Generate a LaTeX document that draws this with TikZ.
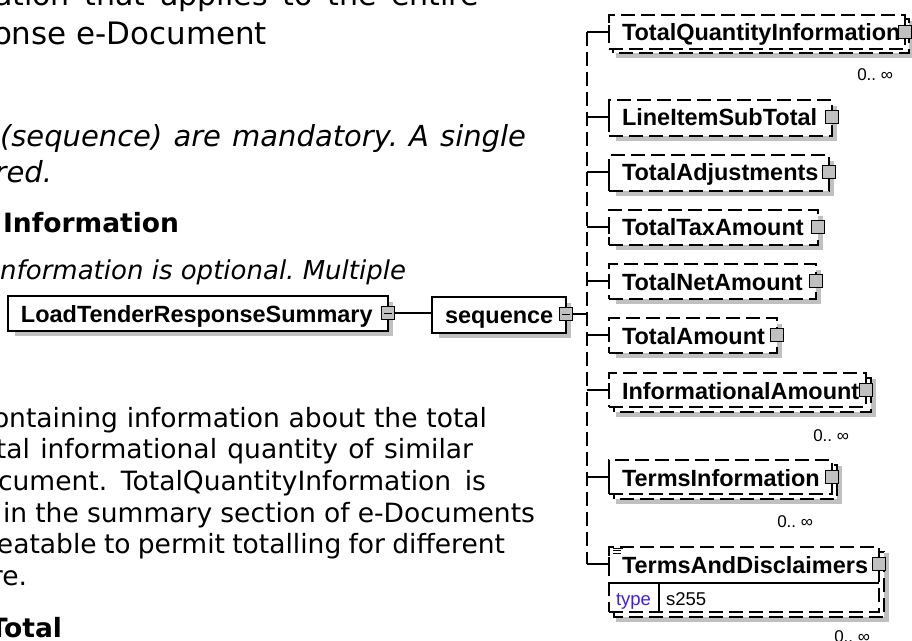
\documentclass[tikz,border=0pt]{standalone}
\usepackage{fontspec}
\setmainfont{DejaVu Sans}[ItalicFont={DejaVu Sans Oblique},BoldFont={DejaVu Sans Bold}]
\newfontfamily\diagfont{Liberation Sans}
\definecolor{shadowgray}{RGB}{192,192,192}
\definecolor{sqgray}{RGB}{192,192,192}
\definecolor{typeblue}{RGB}{60,30,240}
\frenchspacing
\tikzset{
  lbl/.style={inner sep=0pt, outer sep=0pt},
  pagetext/.style={lbl, text=black},
  paratext/.style={pagetext, font=\fontsize{19.9pt}{24pt}\selectfont},
  etext/.style={lbl, font=\diagfont\bfseries\fontsize{17.6pt}{20pt}\selectfont},
  occ/.style={lbl, font=\diagfont\fontsize{12.75pt}{14pt}\selectfont},
  typetext/.style={lbl, font=\diagfont\fontsize{13.9pt}{15pt}\selectfont},
  boxline/.style={draw=black, line width=0.9pt},
  solidbox/.style={boxline, fill=white},
  dashbox/.style={boxline, fill=white, dash pattern=on 10.5pt off 4.5pt},
  shade/.style={fill=shadowgray, draw=none},
  expander/.style={draw=black, fill=sqgray, line width=0.75pt, minimum size=9.75pt, inner sep=0pt},
  conn/.style={draw=black, line width=0.9pt},
  busline/.style={conn, dash pattern=on 10.5pt off 4.5pt},
}
% #1 name, #2 L, #3 T, #4 R, #5 B, #6 text, #7 box style, #8 stack offset
\newcommand\xsdelem[8]{%
  \fill[shade] (#2+7,#3+6) rectangle (#4+5+#8,#5+5+#8);
  \ifnum#8>0 \draw[#7] (#2+#8,#3+#8) rectangle (#4+#8,#5+#8);\fi
  \node[#7, lbl, anchor=north west, minimum width={(#4-#2)*0.75pt}, minimum height={(#5-#3)*0.75pt}] (#1) at (#2,#3) {};
  \coordinate (#1-in) at (#2,#3+17);
  \node[etext, anchor=base west] (#1-t) at (#2+13,#3+26) {#6};
  \node[expander] (#1-sq) at (#4,#3+17) {};
}
% a page line stretched between two x positions (px): #1 name, #2 x0, #3 x1, #4 baseline, #5 text
\newcommand\pline[5]{%
  \node[paratext, anchor=base west] (#1) at (#2,#4) {\makebox[{(#3-(#2))*0.75pt}][s]{#5}};
}
\begin{document}
\begin{tikzpicture}[x=0.75pt,y=-0.75pt]
\path[use as bounding box] (0,0) rectangle (912,641);
\clip (0,0) rectangle (912,641);
\fill[white] (0,0) rectangle (912,641);

% ---- page text (left) ----
\node[pagetext, anchor=base west, font=\fontsize{22.5pt}{27pt}\selectfont] (p1) at (-6,6) {\makebox[363.75pt][s]{ation that applies to the entire}};
\node[pagetext, anchor=base east, font=\fontsize{23.2pt}{27pt}\selectfont] (p2) at (267,45) {onse e-Document};
\node[pagetext, anchor=base west, font=\itshape\fontsize{21.75pt}{26pt}\selectfont] (p3) at (0,147) {\makebox[394.5pt][s]{(sequence) are mandatory. A single}};
\node[pagetext, anchor=base east, font=\itshape\fontsize{21.75pt}{26pt}\selectfont] (p4) at (52,183) {red.};
\node[pagetext, anchor=base west, font=\bfseries\fontsize{19.9pt}{24pt}\selectfont] (p5) at (3,233) {Information};
\node[pagetext, anchor=base east, font=\itshape\fontsize{19.5pt}{24pt}\selectfont] (p6) at (406,280) {nformation is optional. Multiple};
\node[paratext, anchor=base west] (q1) at (-7,427) {\makebox[370.5pt][s]{ontaining information about the total}};
\node[paratext, anchor=base west] (q2) at (-4,458) {\makebox[357.75pt][s]{tal informational quantity of similar}};
\node[paratext, anchor=base west] (q3) at (-2,490) {\makebox[366pt][s]{cument. TotalQuantityInformation is}};
\node[paratext, anchor=base west] (q4) at (3,522) {\makebox[399pt][s]{in the summary section of e-Documents}};
\node[paratext, anchor=base west] (q5) at (-3,553) {\makebox[381pt][s]{eatable to permit totalling for different}};
\node[paratext, anchor=base east] (q6) at (27,585) {re.};
\node[pagetext, anchor=base east, font=\bfseries\fontsize{19.9pt}{24pt}\selectfont] (q7) at (62,637) {Total};

% ---- diagram ----
\xsdelem{ltrs}{8}{296}{388}{331}{LoadTenderResponseSummary}{solidbox}{0}
\xsdelem{seq}{432}{297}{566}{333}{sequence}{solidbox}{0}
\xsdelem{tqi}{609}{15}{905}{49}{TotalQuantityInformation}{dashbox}{4}
\xsdelem{list}{609}{100}{832}{136}{LineItemSubTotal}{dashbox}{0}
\xsdelem{tadj}{609}{155}{829}{191}{TotalAdjustments}{dashbox}{0}
\xsdelem{ttax}{609}{210}{818}{245}{TotalTaxAmount}{dashbox}{0}
\xsdelem{tnet}{609}{264}{816}{299}{TotalNetAmount}{dashbox}{0}
\xsdelem{tamt}{609}{318}{777}{353}{TotalAmount}{dashbox}{0}
\xsdelem{infa}{609}{373}{866}{407}{InformationalAmount}{dashbox}{5}
\xsdelem{terms}{609}{460}{832}{494}{TermsInformation}{dashbox}{5}
\xsdelem{tad}{609}{547}{879}{612}{TermsAndDisclaimers}{dashbox}{5}

% minus signs in expanded squares
\foreach \n in {ltrs,seq}
  \draw[line width=0.75pt] ([xshift=-3pt]\n-sq.center) -- ([xshift=3pt]\n-sq.center);

% connectors
\coordinate (busx) at (587,0);
\draw[conn] (ltrs-sq.east) -- (ltrs-sq.east -| seq.west);
\draw[conn] (seq-sq.east) -- (seq-sq.east -| busx);
\draw[busline] (tqi-in -| busx) -- (tad-in -| busx);
\foreach \n in {tqi,list,tadj,ttax,tnet,tamt,infa,terms,tad}{
  \draw[conn] (\n-in -| busx) -- (\n-in);
  \draw[conn] ([yshift=5pt]\n-in) -- ([yshift=-5pt]\n-in);
}

% TermsAndDisclaimers details
\draw[boxline] (609,583) -- (879,583);
\draw[boxline] (659,583) -- (659,612);
\node[typetext, text=typeblue, anchor=base west] (tad-type) at (616,605) {type};
\node[typetext, anchor=base west] (tad-val) at (666,605) {s255};
\foreach \yy/\xe in {548/623,550.5/621,553/621}
  \draw[line width=0.6pt] (613,\yy) -- (\xe,\yy);

% occurrence labels
\node[occ, anchor=base east] (tqi-occ) at (893,81) {0.. ∞};
\node[occ, anchor=base east] (infa-occ) at (849,441) {0.. ∞};
\node[occ, anchor=base east] (terms-occ) at (813,527) {0.. ∞};
\node[occ, anchor=base east] (tad-occ) at (870,642) {0.. ∞};
\end{tikzpicture}
\end{document}
